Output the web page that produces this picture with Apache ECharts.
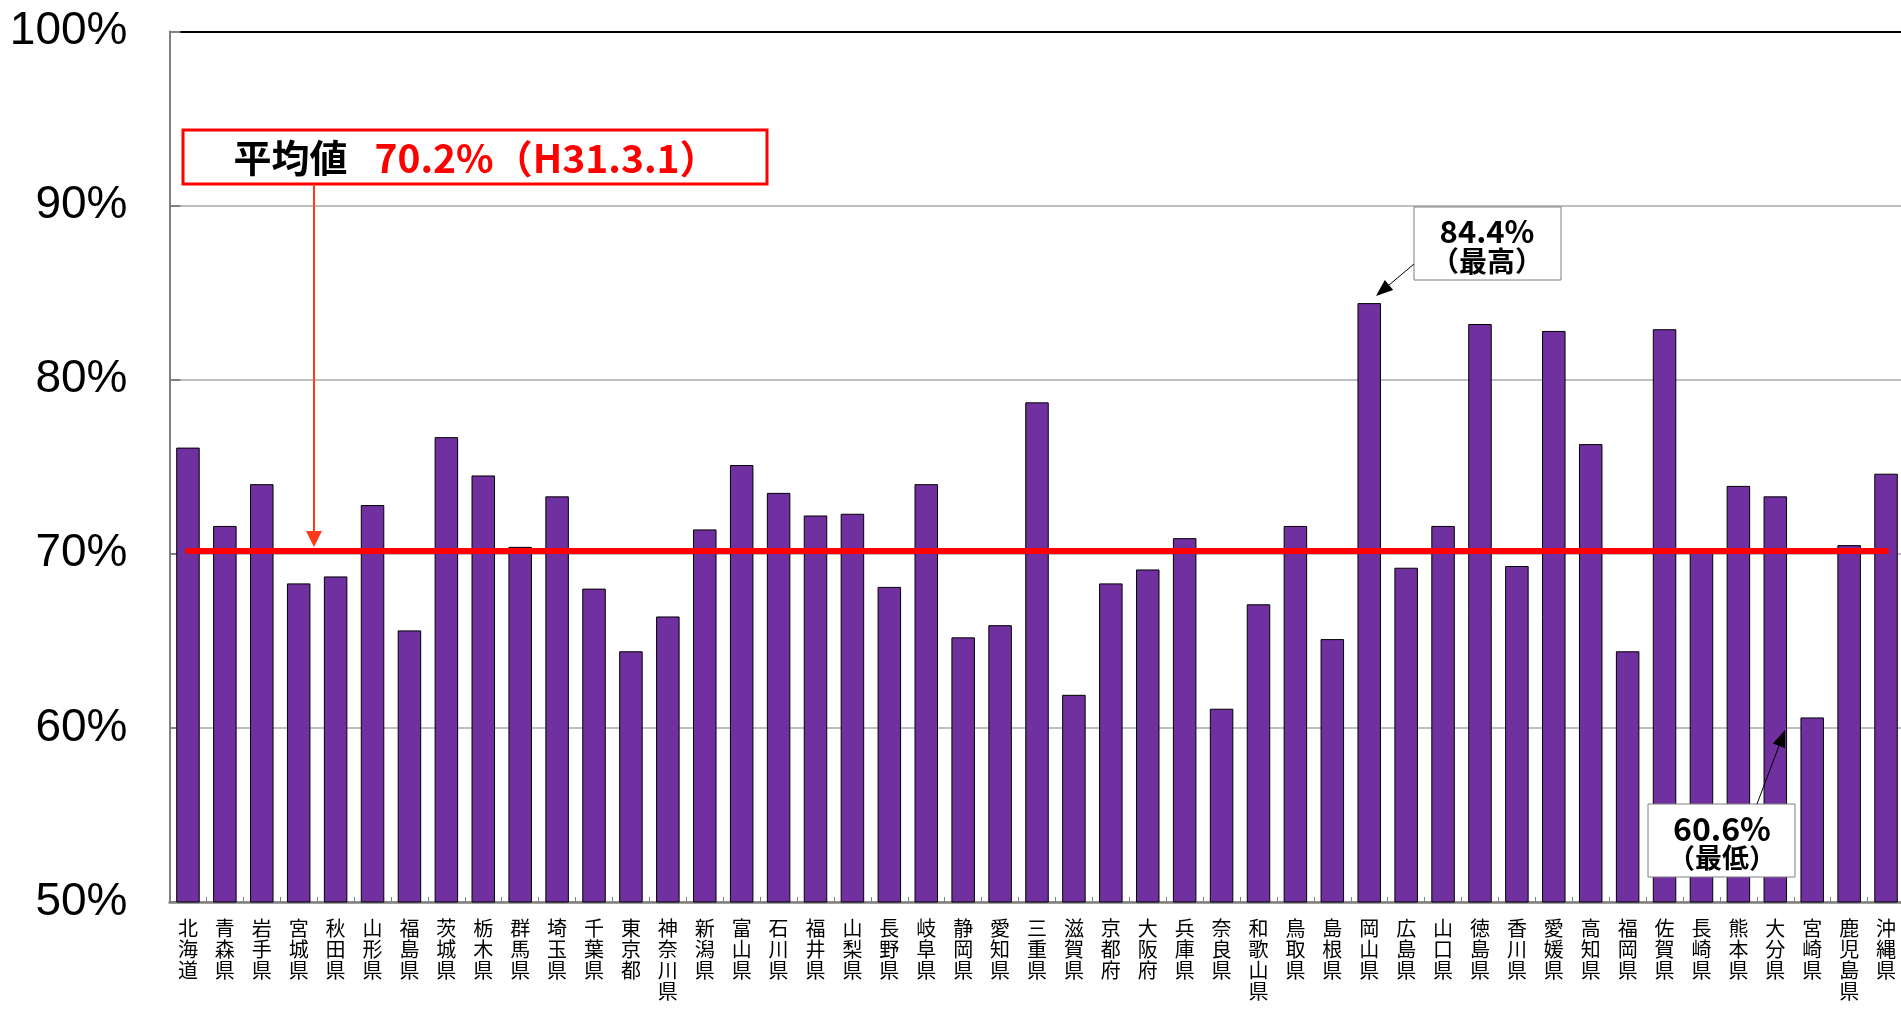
<!DOCTYPE html>
<html>
<head>
<meta charset="utf-8">
<script src="https://cdn.jsdelivr.net/npm/echarts@6/dist/echarts.min.js"></script>
<style>
html,body{margin:0;padding:0;background:#fff;}
#main{width:1901px;height:1009px;}
</style>
</head>
<body>
<div id="main"></div>
<script>
// 都道府県
var prefs = ['北海道','青森県','岩手県','宮城県','秋田県','山形県','福島県','茨城県','栃木県','群馬県',
    '埼玉県','千葉県','東京都','神奈川県','新潟県','富山県','石川県','福井県','山梨県','長野県',
    '岐阜県','静岡県','愛知県','三重県','滋賀県','京都府','大阪府','兵庫県','奈良県','和歌山県',
    '鳥取県','島根県','岡山県','広島県','山口県','徳島県','香川県','愛媛県','高知県','福岡県',
    '佐賀県','長崎県','熊本県','大分県','宮崎県','鹿児島県','沖縄県'];
// 割合(%)
var rates = [76.1,71.6,74.0,68.3,68.7,72.8,65.6,76.7,74.5,70.4,
    73.3,68.0,64.4,66.4,71.4,75.1,73.5,72.2,72.3,68.1,
    74.0,65.2,65.9,78.7,61.9,68.3,69.1,70.9,61.1,67.1,
    71.6,65.1,84.4,69.2,71.6,83.2,69.3,82.8,76.3,64.4,
    82.9,70.1,73.9,73.3,60.6,70.5,74.6];
var avgRate = 70.2;
var avgDate = 'H31.3.1';
var yMin = 50, yMax = 100, yStep = 10;

var maxRate = Math.max.apply(null, rates);
var minRate = Math.min.apply(null, rates);

// 矢印(線+三角)
function arrow(x1, y1, x2, y2, color, w, hl, hw){
    var a = Math.atan2(y2 - y1, x2 - x1);
    var bx = x2 - hl * Math.cos(a), by = y2 - hl * Math.sin(a);
    var px = -Math.sin(a) * hw / 2, py = Math.cos(a) * hw / 2;
    return [
        {type:'line', z:200, shape:{x1:x1, y1:y1, x2:bx, y2:by}, style:{stroke:color, lineWidth:w}},
        {type:'polygon', z:200, shape:{points:[[x2, y2],[bx + px, by + py],[bx - px, by - py]]}, style:{fill:color}}
    ];
}

var jp = '"Noto Sans CJK JP", sans-serif';

var graphics = [
    // 平均値の枠
    {type:'rect', z:200, shape:{x:183, y:130, width:584, height:54},
        style:{fill:'#fff', stroke:'#ff0000', lineWidth:3}},
    {type:'text', z:201, x:476, y:158,
        style:{text:'{a|平均値}{b|' + avgRate.toFixed(1) + '%（' + avgDate + '）}',
            align:'center', verticalAlign:'middle',
            rich:{
                a:{fontSize:38, fontWeight:'bold', fill:'#000', fontFamily:jp},
                b:{fontSize:39, fontWeight:'bold', fill:'#ff0000', fontFamily:jp, padding:[0,0,0,27]}
            }}},
    // 最高
    {type:'rect', z:200, shape:{x:1414, y:207, width:147, height:73},
        style:{fill:'#fff', stroke:'#7f7f7f', lineWidth:1}},
    {type:'text', z:201, x:1487, y:231,
        style:{text:maxRate.toFixed(1) + '%', align:'center', verticalAlign:'middle',
            font:'bold 31px ' + jp, fill:'#000'}},
    {type:'text', z:201, x:1487, y:261,
        style:{text:'（最高）', align:'center', verticalAlign:'middle',
            font:'bold 28px ' + jp, fill:'#000'}},
    // 最低
    {type:'rect', z:200, shape:{x:1648, y:804, width:147, height:73},
        style:{fill:'#fff', stroke:'#7f7f7f', lineWidth:1}},
    {type:'text', z:201, x:1722, y:829,
        style:{text:minRate.toFixed(1) + '%', align:'center', verticalAlign:'middle',
            font:'bold 32px ' + jp, fill:'#000'}},
    {type:'text', z:201, x:1722, y:858,
        style:{text:'（最低）', align:'center', verticalAlign:'middle',
            font:'bold 27px ' + jp, fill:'#000'}}
];
graphics = graphics
    .concat(arrow(314, 184, 314, 547, '#ff3a1a', 2, 16, 16))
    .concat(arrow(1414, 264, 1376, 296, '#000', 1, 17, 13))
    .concat(arrow(1757, 804, 1785, 730, '#000', 1, 17, 13));

var myChart = echarts.init(document.getElementById('main'));
var option = {
    backgroundColor:'#fff',
    animation:false,
    grid:{left:169.5, right:-3.5, top:31.5, bottom:107, containLabel:false, outerBoundsMode:'none'},
    xAxis:{
        type:'category',
        data:prefs,
        axisLine:{lineStyle:{color:'#808080', width:2.5}},
        axisTick:{show:true, inside:true, length:5, lineStyle:{color:'#808080', width:1}},
        axisLabel:{
            interval:0, margin:16, color:'#000', fontSize:20, lineHeight:21,
            fontFamily:jp, verticalAlign:'top',
            formatter:function(v){ return v.split('').join('\n'); }
        },
        splitLine:{show:false}
    },
    yAxis:{
        type:'value',
        min:yMin, max:yMax, interval:yStep,
        axisLine:{show:true, lineStyle:{color:'#808080', width:2}},
        axisTick:{show:true, inside:true, length:11, lineStyle:{color:'#808080', width:2}},
        axisLabel:{margin:42, color:'#000', fontSize:46, fontFamily:'"Liberation Sans", Arial, sans-serif',
            formatter:'{value}%'},
        splitLine:{show:true, lineStyle:{color:['#bfbfbf','#bfbfbf','#bfbfbf','#bfbfbf','#bfbfbf','#000'], width:2}}
    },
    series:[{
        type:'bar',
        data:rates,
        barWidth:23.5,
        itemStyle:{color:'#7030a0', borderColor:'#000', borderWidth:1},
        markLine:{
            silent:true,
            symbol:'none',
            label:{show:false},
            lineStyle:{color:'#ff0000', width:6, type:'solid', cap:'round'},
            data:[[{coord:[prefs[0], avgRate]},{coord:[prefs[prefs.length - 1], avgRate]}]]
        }
    }],
    graphic:graphics
};
myChart.setOption(option);
</script>
</body>
</html>
